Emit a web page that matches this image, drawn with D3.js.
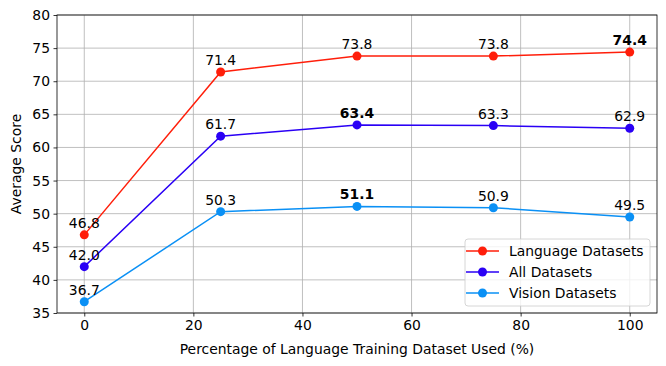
<!DOCTYPE html>
<html>
<head>
<meta charset="utf-8">
<script src="https://cdn.jsdelivr.net/npm/d3@7"></script>
<style>
  body { margin: 0; background: #fff; }
  text { font-family: "DejaVu Sans", sans-serif; }
</style>
</head>
<body>
<svg id="chart" width="666" height="366"></svg>
<script>
// data
const percentages = [0, 25, 50, 75, 100];
const languageScores = [46.8, 71.4, 73.8, 73.8, 74.4];
const allScores = [42.0, 61.7, 63.4, 63.3, 62.9];
const visionScores = [36.7, 50.3, 51.1, 50.9, 49.5];
const xTicks = [0, 20, 40, 60, 80, 100];
const yTicks = [35, 40, 45, 50, 55, 60, 65, 70, 75, 80];

const series = [
  { name: 'Language Datasets', values: languageScores, color: '#ff1e0a' },
  { name: 'All Datasets', values: allScores, color: '#2a00f5' },
  { name: 'Vision Datasets', values: visionScores, color: '#0a90f5' }
];

const svg = d3.select('#chart');
const margin = { top: 15, right: 9, bottom: 53, left: 57 };
const width = 666 - margin.left - margin.right;
const height = 366 - margin.top - margin.bottom;
const fontSize = 13.9;

const x = d3.scaleLinear().domain([-5, 105]).range([0, width]);
const y = d3.scaleLinear().domain([35, 80]).range([height, 0]);

const g = svg.append('g').attr('transform', `translate(${margin.left},${margin.top})`);

// grid
g.append('g').selectAll('line').data(xTicks).enter().append('line')
  .attr('x1', d => x(d)).attr('x2', d => x(d))
  .attr('y1', 0).attr('y2', height)
  .attr('stroke', '#b0b0b0').attr('stroke-width', 0.8);
g.append('g').selectAll('line').data(yTicks).enter().append('line')
  .attr('x1', 0).attr('x2', width)
  .attr('y1', d => y(d)).attr('y2', d => y(d))
  .attr('stroke', '#b0b0b0').attr('stroke-width', 0.8);

// axes
const xAxis = g.append('g').attr('transform', `translate(0,${height})`)
  .call(d3.axisBottom(x).tickValues(xTicks).tickSize(3.5).tickPadding(3.5).tickFormat(d3.format('d')));
const yAxis = g.append('g')
  .call(d3.axisLeft(y).tickValues(yTicks).tickSize(3.5).tickPadding(3.5).tickFormat(d3.format('d')));
[xAxis, yAxis].forEach(a => {
  a.select('.domain').remove();
  a.selectAll('text').attr('font-size', fontSize).attr('fill', '#000')
    .style('font-family', '"DejaVu Sans", sans-serif');
  a.selectAll('line').attr('stroke', '#000').attr('stroke-width', 0.8);
});

// lines and points
const line = d3.line().x((d, i) => x(percentages[i])).y(d => y(d));
series.forEach(s => {
  g.append('path').datum(s.values)
    .attr('d', line).attr('fill', 'none')
    .attr('stroke', s.color).attr('stroke-width', 1.5);
  g.selectAll(null).data(s.values).enter().append('circle')
    .attr('cx', (d, i) => x(percentages[i])).attr('cy', d => y(d))
    .attr('r', 4.5).attr('fill', s.color);
  const maxV = d3.max(s.values);
  g.selectAll(null).data(s.values).enter().append('text')
    .attr('x', (d, i) => x(percentages[i])).attr('y', d => y(d) - 7)
    .attr('text-anchor', 'middle').attr('font-size', fontSize)
    .attr('font-weight', d => d === maxV ? 'bold' : 'normal')
    .text(d => d.toFixed(1));
});

// frame
g.append('rect').attr('width', width).attr('height', height)
  .attr('fill', 'none').attr('stroke', '#000').attr('stroke-width', 0.8);

// axis labels
svg.append('text')
  .attr('x', margin.left + width / 2).attr('y', 354)
  .attr('text-anchor', 'middle').attr('font-size', fontSize)
  .text('Percentage of Language Training Dataset Used (%)');
svg.append('text')
  .attr('transform', `translate(21,${margin.top + height / 2}) rotate(-90)`)
  .attr('text-anchor', 'middle').attr('font-size', fontSize)
  .text('Average Score');

// legend
const legend = svg.append('g').attr('transform', 'translate(465,239)');
legend.append('rect').attr('width', 185).attr('height', 67).attr('rx', 3)
  .attr('fill', 'rgba(255,255,255,0.8)').attr('stroke', '#cccccc').attr('stroke-width', 0.8);
series.forEach((s, i) => {
  const ly = 12 + i * 21;
  legend.append('line').attr('x1', 1).attr('x2', 34).attr('y1', ly).attr('y2', ly)
    .attr('stroke', s.color).attr('stroke-width', 1.5);
  legend.append('circle').attr('cx', 17.5).attr('cy', ly).attr('r', 4.5).attr('fill', s.color);
  legend.append('text').attr('x', 44).attr('y', ly + 5).attr('font-size', fontSize).text(s.name);
});
</script>
</body>
</html>
